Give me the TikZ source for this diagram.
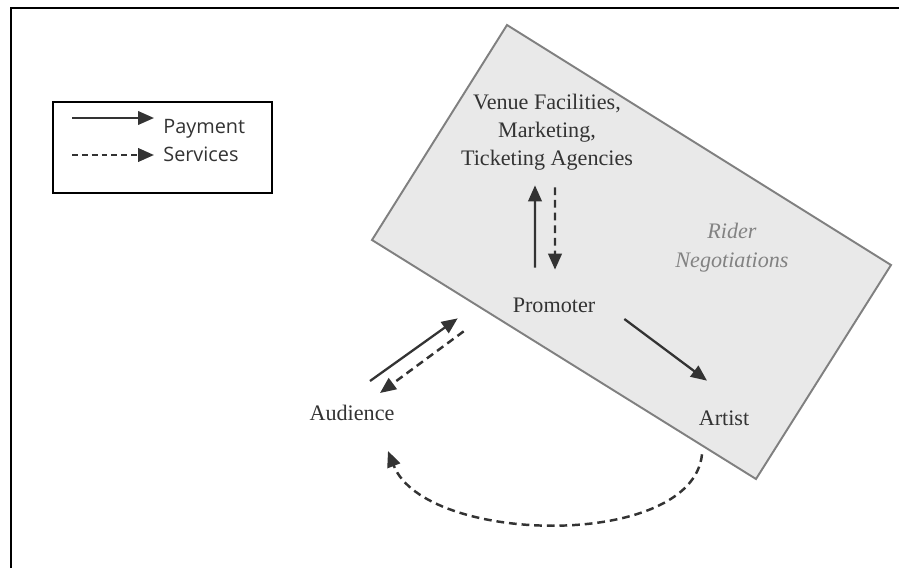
\documentclass[tikz,border=0pt]{standalone}
\usepackage{fontspec}
\setmainfont{Liberation Serif}
\newfontfamily\legendfont{Open Sans}
\usetikzlibrary{arrows.meta}
\definecolor{panel}{RGB}{233,233,233}
\definecolor{rimgray}{RGB}{128,128,128}
\definecolor{ink}{RGB}{51,51,51}
\definecolor{faint}{RGB}{130,130,130}
\tikzset{
    >={Triangle[length=0.32cm,width=0.27cm]},
    pay/.style={->,draw=ink,line width=1.3pt},
    serv/.style={->,draw=ink,line width=1.4pt,dash pattern=on 4.4pt off 2.8pt},
    patchbox/.style={align=center,inner sep=0pt,font=\fontsize{12.6}{15.8}\selectfont,text=ink},
    legendtext/.style={anchor=base west,inner sep=0pt,font=\legendfont\fontsize{11.3}{13}\selectfont,text=ink}
}
\begin{document}
\begin{tikzpicture}[x=0.02cm,y=-0.02cm]
            \useasboundingbox (0,0) rectangle (899,568);
            \draw[line width=1.7pt] (11,568)--(11,8)--(899,8);
            \draw[line width=1.2pt] (53,102) rectangle (272,193);
            \node[legendtext] (paytext) at (163,133) {Payment};
            \node[legendtext] (servtext) at (163,161) {Services};
            \coordinate (paystart) at (72,118);
            \coordinate (servstart) at (72,155);
            \draw[pay] (paystart)--([xshift=-0.18cm]paytext.west |- paystart);
            \draw[serv,dash pattern=on 3.4pt off 2.2pt] (servstart)--([xshift=-0.18cm]servtext.west |- servstart);
            \draw[fill=panel,draw=rimgray,line width=1.1pt] (507,25)--(891,265)--(756,479)--(372,240)--cycle;
            \node[patchbox,minimum width=4.02cm,minimum height=2cm] (venue) at (547,132) {Venue Facilities,\\Marketing,\\Ticketing Agencies};
            \node[patchbox,minimum width=2.64cm,minimum height=1.08cm] (prom) at (554,305) {Promoter};
            \node[patchbox,minimum width=1.7cm,minimum height=1.04cm] (artist) at (724,418) {Artist};
            \node[patchbox,minimum width=3.26cm,minimum height=1.4cm,text=faint,font=\itshape\fontsize{12.6}{16.5}\selectfont] (rider) at (732,248) {Rider\\Negotiations};
            \node[align=center,inner sep=0pt,font=\fontsize{12.6}{15.8}\selectfont,text=ink] (aud) at (352,413) {Audience};
            \draw[pay] ([xshift=-0.38cm,yshift=0.2cm]prom.north)--([xshift=-0.24cm,yshift=-0.06cm]venue.south);
            \draw[serv] ([xshift=0.16cm,yshift=-0.1cm]venue.south)--([xshift=0.02cm,yshift=0.16cm]prom.north);
            \draw[pay] ([xshift=0.36cm,yshift=0.64cm]aud.center)--([xshift=-0.6cm,yshift=0.28cm]prom.south west);
            \draw[serv] ([xshift=-0.48cm,yshift=0.02cm]prom.south west)--([xshift=0.56cm,yshift=0.4cm]aud.center);
            \draw[pay] ([xshift=0.08cm,yshift=-0.28cm]prom.east)--([xshift=-0.34cm,yshift=0.22cm]artist.north);
            \draw[serv] ([xshift=-0.44cm,yshift=-0.2cm]artist.south) .. controls +(-10,96) and +(37,94) .. ([xshift=0.72cm,yshift=-0.76cm]aud.center);
        \end{tikzpicture}
\end{document}
